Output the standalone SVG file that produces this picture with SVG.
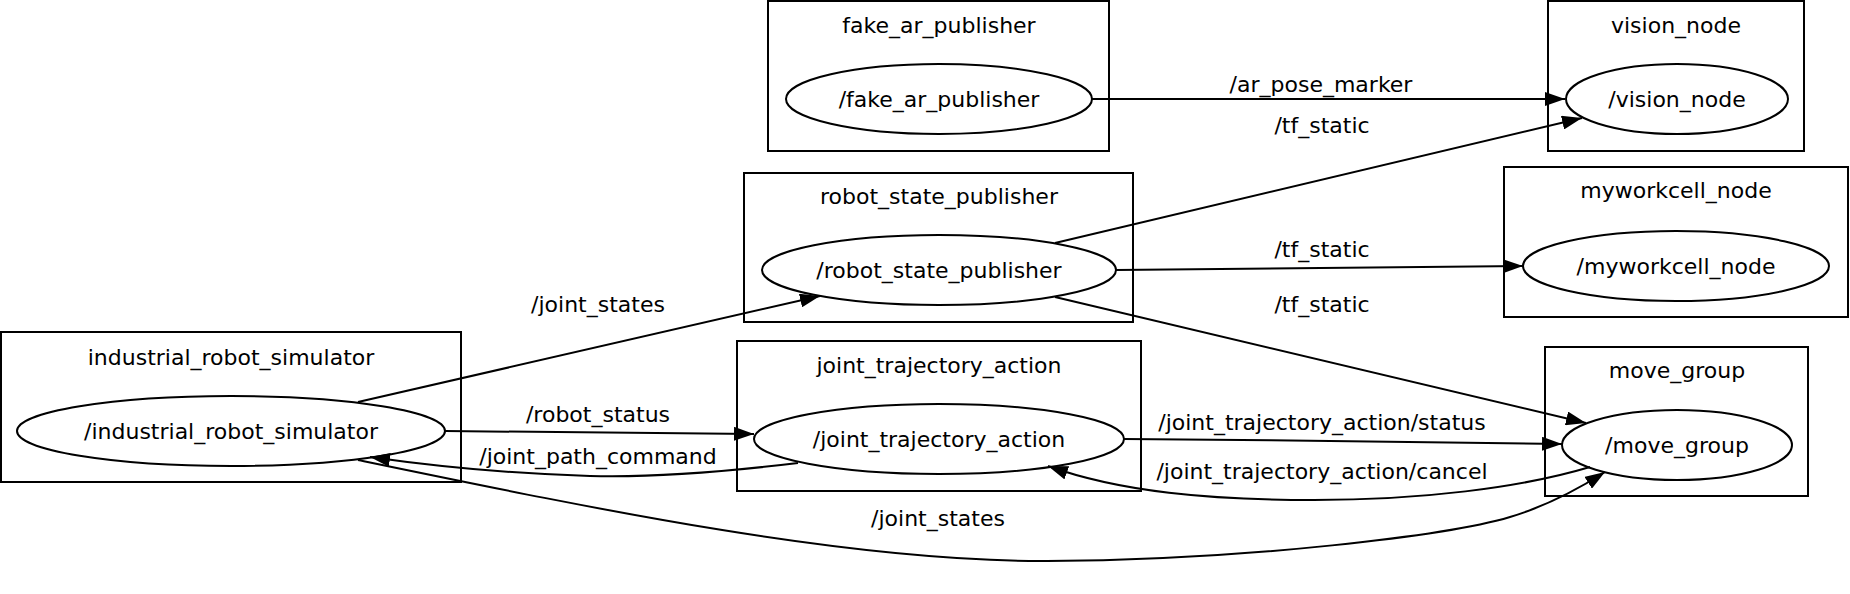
<svg xmlns="http://www.w3.org/2000/svg" width="1850" height="594" viewBox="0 0 1850 594">
<style>
text{font-family:"DejaVu Sans",sans-serif;font-size:22px;fill:#000;text-anchor:middle}
.box{fill:none;stroke:#000;stroke-width:2}
.ell{fill:none;stroke:#000;stroke-width:2}
.edge{fill:none;stroke:#000;stroke-width:2;marker-end:url(#ah)}
</style>
<defs>
<marker id="ah" viewBox="0 0 20 14" refX="20" refY="7" markerWidth="20" markerHeight="14" markerUnits="userSpaceOnUse" orient="auto">
<path d="M0,0 L20,7 L0,14 z" fill="#000"/>
</marker>
</defs>
<rect width="1850" height="594" fill="#fff"/>
<g id="industrial_robot_simulator">
<rect class="box" x="1" y="332" width="460" height="150"/>
<text x="231" y="365">industrial_robot_simulator</text>
<ellipse class="ell" cx="231" cy="431" rx="214" ry="35"/>
<text x="231" y="439">/industrial_robot_simulator</text>
</g>
<g id="joint_trajectory_action">
<rect class="box" x="737" y="341" width="404" height="150"/>
<text x="939" y="373">joint_trajectory_action</text>
<ellipse class="ell" cx="939" cy="439" rx="185" ry="35"/>
<text x="939" y="447">/joint_trajectory_action</text>
</g>
<g id="fake_ar_publisher">
<rect class="box" x="768" y="1" width="341" height="150"/>
<text x="939" y="33">fake_ar_publisher</text>
<ellipse class="ell" cx="939" cy="99" rx="153" ry="35"/>
<text x="939" y="107">/fake_ar_publisher</text>
</g>
<g id="robot_state_publisher">
<rect class="box" x="744" y="173" width="389" height="149"/>
<text x="939" y="204">robot_state_publisher</text>
<ellipse class="ell" cx="939" cy="270" rx="177" ry="35"/>
<text x="939" y="278">/robot_state_publisher</text>
</g>
<g id="vision_node">
<rect class="box" x="1548" y="1" width="256" height="150"/>
<text x="1676" y="33">vision_node</text>
<ellipse class="ell" cx="1677" cy="99" rx="111" ry="35"/>
<text x="1677" y="107">/vision_node</text>
</g>
<g id="myworkcell_node">
<rect class="box" x="1504" y="167" width="344" height="150"/>
<text x="1676" y="198">myworkcell_node</text>
<ellipse class="ell" cx="1676" cy="266" rx="153" ry="35"/>
<text x="1676" y="274">/myworkcell_node</text>
</g>
<g id="move_group">
<rect class="box" x="1545" y="347" width="263" height="149"/>
<text x="1677" y="378">move_group</text>
<ellipse class="ell" cx="1677" cy="445" rx="115" ry="35"/>
<text x="1677" y="453">/move_group</text>
</g>
<g id="connectors">
<path class="edge" d="M1092,99 L1565,99"/>
<text x="1321" y="92">/ar_pose_marker</text>
<path class="edge" d="M1055,243 L1582,118"/>
<text x="1322" y="133">/tf_static</text>
<path class="edge" d="M1116,270 L1523,266"/>
<text x="1322" y="257">/tf_static</text>
<path class="edge" d="M1055,297 L1586,423"/>
<text x="1322" y="312">/tf_static</text>
<path class="edge" d="M358,402 L820,296"/>
<text x="598" y="312">/joint_states</text>
<path class="edge" d="M445,431 C560,432 660,433 754,434"/>
<text x="598" y="422">/robot_status</text>
<path class="edge" d="M798,463 C740,470 660,478 590,476 C520,474 440,467 370,457"/>
<text x="598" y="464">/joint_path_command</text>
<path class="edge" d="M1124,439 C1270,440 1420,442 1562,444"/>
<text x="1322" y="430">/joint_trajectory_action/status</text>
<path class="edge" d="M1590,467 C1520,488 1420,500 1314,500 C1210,500 1120,492 1048,466"/>
<text x="1322" y="479">/joint_trajectory_action/cancel</text>
<path class="edge" d="M358,460 C600,510 850,562 1047,561 C1250,560 1450,535 1510,517 C1550,505 1580,488 1605,472"/>
<text x="938" y="526">/joint_states</text>
</g>
</svg>
